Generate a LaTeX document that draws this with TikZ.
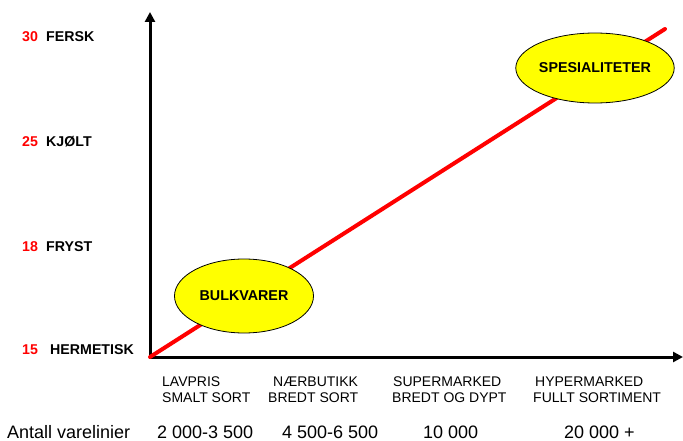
\documentclass[tikz,border=0pt]{standalone}
\usepackage{fontspec}
\setmainfont{Liberation Sans}
\usetikzlibrary{arrows.meta,shapes.geometric}
\definecolor{chartred}{RGB}{255,0,0}
\definecolor{chartyellow}{RGB}{255,255,0}
\begin{document}
\begin{tikzpicture}[x=1pt,y=-1pt,
  axis/.style={line width=3pt,-{Triangle[width=10pt,length=10pt]}},
  trend/.style={line width=4pt,draw=chartred},
  blob/.style={ellipse,draw=black,line width=0.8pt,fill=chartyellow,inner sep=0pt,
    font=\fontsize{14.3}{16}\selectfont\bfseries},
  num/.style={anchor=base west,text=chartred,font=\fontsize{14.2}{16}\selectfont\bfseries,inner sep=0pt},
  lvl/.style={anchor=base west,font=\fontsize{14.2}{16}\selectfont\bfseries,inner sep=0pt},
  kind/.style={anchor=base west,font=\fontsize{14}{16}\selectfont,inner sep=0pt},
  count/.style={anchor=base west,font=\fontsize{18}{20}\selectfont,inner sep=0pt}]
\useasboundingbox (0,0) rectangle (683,441);

% axes
\coordinate (origin) at (150,357);
\coordinate (ytop) at (150,12);
\coordinate (xend) at (683,357);
\draw[axis] (origin) -- (ytop);
\draw[axis] ([xshift=-1.5pt]origin) -- (xend);

% trend line
\coordinate (tstart) at (150,357);
\coordinate (tend) at (665,29);
\draw[trend,line cap=round] (tstart) -- (tend);

% categories
\node[blob,minimum width=139pt,minimum height=74pt] (bulk) at (244,296) {BULKVARER};
\node[blob,minimum width=139pt,minimum height=70pt] (spes) at (595,68) {SPESIALITETER};

% vertical scale
\node[num] (n30) at (22,42) {30};
\node[lvl] (l30) at (46,42) {FERSK};
\node[num] (n25) at (22,147) {25};
\node[lvl] (l25) at (46,147) {KJØLT};
\node[num] (n18) at (22,251) {18};
\node[lvl] (l18) at (46,251) {FRYST};
\node[num] (n15) at (22,354) {15};
\node[lvl] (l15) at (50,354) {HERMETISK};

% store types
\node[kind] (a1) at (162,386) {LAVPRIS};
\node[kind] (a2) at (162,402) {SMALT SORT};
\node[kind] (b1) at (273,386) {NÆRBUTIKK};
\node[kind] (b2) at (268,402) {BREDT SORT};
\node[kind] (c1) at (393,386) {SUPERMARKED};
\node[kind] (c2) at (392,402) {BREDT OG DYPT};
\node[kind] (d1) at (535,386) {HYPERMARKED};
\node[kind] (d2) at (533,402) {FULLT SORTIMENT};

% number of product lines
\node[count] (cl) at (7,438) {Antall varelinier};
\node[count] (c1n) at (157,438) {2 000-3 500};
\node[count] (c2n) at (282,438) {4 500-6 500};
\node[count] (c3n) at (423,438) {10 000};
\node[count] (c4n) at (564,438) {20 000 +};
\end{tikzpicture}
\end{document}
